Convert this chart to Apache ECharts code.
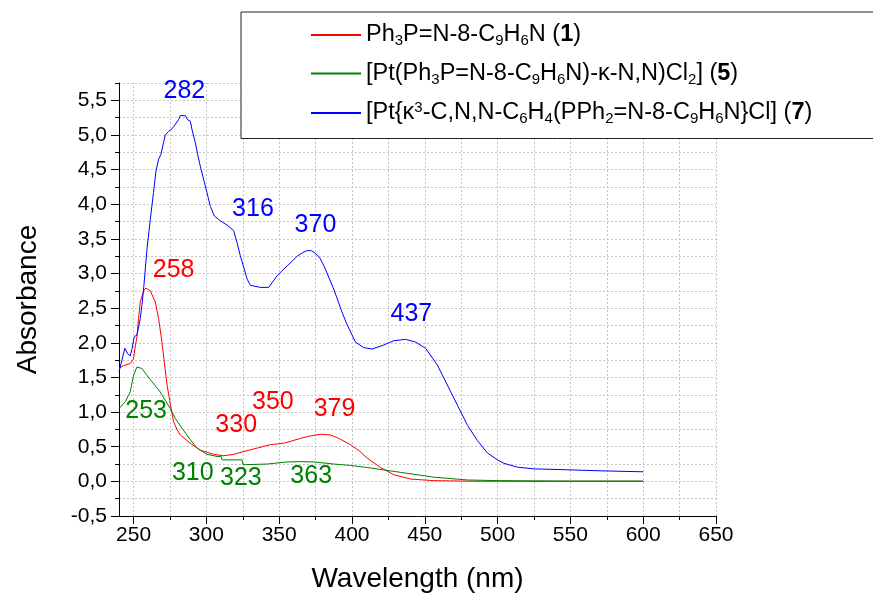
<!DOCTYPE html>
<html><head><meta charset="utf-8">
<script src="https://cdn.jsdelivr.net/npm/echarts@6/dist/echarts.min.js"></script>
<style>html,body{margin:0;padding:0;background:#fff}#c{width:873px;height:598px}</style>
</head><body><div id="c"></div>
<script>
// ---- data ----
const wl1 = [240,243,247.7,250,251.1,252.3,253.4,254.6,256.9,258.5,261.5,264.9,267.2,269.5,271.1,273,275.2,277.5,280,282.1,289,295.8,305,311.9,318.8,325.6,334.8,344,353.1,364.6,370,378.4,385,390,399,405,410.5,419.6,428.8,440.3,456.3,480,520,560,600];
const abs1 = [1.63,1.67,1.70,1.77,1.94,2.08,2.35,2.59,2.75,2.79,2.75,2.59,2.35,2.01,1.72,1.39,1.12,0.86,0.74,0.67,0.55,0.45,0.39,0.37,0.39,0.43,0.48,0.53,0.55,0.62,0.65,0.68,0.67,0.63,0.53,0.44,0.335,0.20,0.095,0.033,0.01,0.003,0.0,0.0,0.0];

const wl5 = [240,244.3,247.7,250,252.3,253.4,255.7,259.2,262.6,266.1,268.3,271.8,275.2,278.7,282.1,289,293.6,300.5,307.3,310.1,310.8,324.5,325.2,341.7,355.5,364.6,373.8,387.5,399,410.5,433.4,456.3,479.3,502,550,600];
const abs5 = [1.05,1.15,1.29,1.53,1.65,1.67,1.63,1.53,1.44,1.35,1.29,1.17,1.05,0.91,0.80,0.60,0.48,0.39,0.36,0.36,0.31,0.31,0.24,0.25,0.28,0.285,0.28,0.25,0.23,0.20,0.13,0.06,0.02,0.01,0.005,0.005];

const wl7 = [240,242,244,246,247.7,249,250.5,252.3,254.6,255.8,257,259.2,261.5,263.7,265.4,267.2,268.8,270.6,271.8,274,276.4,277.5,278.7,280.9,282.1,285.5,287.1,289,290.1,292.4,294,295.8,298.1,300.4,302.7,305.5,307.3,309.6,314.2,318.7,321,323.3,328,330.2,337.1,342.8,348.6,355.5,362.4,366,369,372,375,378,381,384,387,390,393,396.7,402.4,408.1,413.9,420.8,428.8,436.8,443.7,450.6,458.6,465.5,472.4,479.3,486.1,493,499.9,504.4,513.7,525,548,571,600];
const abs7 = [1.58,1.75,1.92,1.84,1.81,1.92,2.09,2.11,2.35,2.55,2.80,3.35,3.78,4.17,4.48,4.65,4.72,4.89,5.00,5.05,5.09,5.12,5.10,5.22,5.28,5.28,5.22,5.20,5.08,4.89,4.72,4.55,4.36,4.17,3.97,3.83,3.80,3.76,3.70,3.62,3.45,3.26,2.92,2.83,2.80,2.80,2.97,3.11,3.25,3.30,3.33,3.33,3.29,3.22,3.10,2.95,2.80,2.63,2.45,2.26,2.01,1.93,1.91,1.96,2.03,2.05,2.01,1.92,1.68,1.39,1.10,0.81,0.59,0.41,0.31,0.26,0.205,0.18,0.167,0.152,0.138];

// peak annotations (text, anchor wavelength, anchor absorbance)
const peakText1 = ['258','330','350','379'];
const peakX1 = [277.5,320.5,345.7,388.0];
const peakY1 = [3.05,0.81,1.14,1.05];
const peakText5 = ['253','310','323','363'];
const peakX5 = [258.6,290.7,323.7,372.0];
const peakY5 = [1.01,0.12,0.05,0.07];
const peakText7 = ['282','316','370','437'];
const peakX7 = [284.9,332.0,374.9,440.8];
const peakY7 = [5.63,3.93,3.70,2.41];

// axis ticks
const xMajor = [250,300,350,400,450,500,550,600,650];
const xMinor = [275,325,375,425,475,525,575,625];
const xGrid = [250,275,300,325,350,375,400,425,450,475,500,525,550,575,600,625,650];
const yMajor = [-0.5,0,0.5,1,1.5,2,2.5,3,3.5,4,4.5,5,5.5];

const names = ['Ph3P=N-8-C9H6N (1)','[Pt(Ph3P=N-8-C9H6N)-k-N,N)Cl2] (5)','[Pt{k3-C,N,N-C6H4(PPh2=N-8-C9H6N}Cl] (7)'];
const richNames = {
  [names[0]]: 'Ph{s|3}P=N-8-C{s|9}H{s|6}N ({b|1})',
  [names[1]]: '[Pt(Ph{s|3}P=N-8-C{s|9}H{s|6}N)-κ-N,N)Cl{s|2}] ({b|5})',
  [names[2]]: '[Pt{κ{p|3}-C,N,N-C{s|6}H{s|4}(PPh{s|2}=N-8-C{s|9}H{s|6}N}Cl] ({b|7})'
};

const FONT = '"Liberation Sans", Arial, sans-serif';
const zip = (a,b) => a.map((v,i)=>[v,b[i]]);
function peaks(t,x,y,color){
  return {
    symbol:'circle', symbolSize:1, itemStyle:{color:'rgba(0,0,0,0)'}, silent:true,
    label:{show:true, position:'inside', formatter:'{b}', color:color, fontSize:25, fontFamily:FONT},
    data: t.map((s,i)=>({name:s, coord:[x[i],y[i]]}))
  };
}
const chart = echarts.init(document.getElementById('c'), null, {renderer:'canvas'});
const axisLineStyle = {color:'#000', width:1};
chart.setOption({
  animation:false,
  backgroundColor:'#fff',
  grid:{left:119, right:157, top:83, bottom:80, containLabel:false},
  legend:{
    orient:'vertical', left:241, top:12,
    padding:[11,170,12,69], itemGap:13,
    backgroundColor:'#fff', borderColor:'#222', borderWidth:1,
    itemWidth:50, itemHeight:14,
    itemStyle:{opacity:0},
    data:names,
    formatter: n => richNames[n],
    textStyle:{fontSize:23.5, color:'#000', fontFamily:FONT,
      rich:{
        s:{fontSize:15, fontFamily:FONT, color:'#000', padding:[12,0,0,0]},
        p:{fontSize:15, fontFamily:FONT, color:'#000', padding:[0,0,11,0]},
        b:{fontSize:23.5, fontFamily:FONT, color:'#000', fontWeight:'bold'}
      }}
  },
  xAxis:[{
    type:'value', min:240, max:650,
    axisLine:{show:true, onZero:false, lineStyle:axisLineStyle},
    axisTick:{show:true, customValues:xMajor, length:8, lineStyle:axisLineStyle},
    axisLabel:{show:true, customValues:xMajor, fontSize:21, color:'#000', fontFamily:FONT, margin:9},
    splitLine:{show:false},
    name:'Wavelength (nm)', nameLocation:'middle', nameGap:49,
    nameTextStyle:{fontSize:28, color:'#000', fontFamily:FONT}
  },{
    type:'value', min:240, max:650, position:'bottom',
    axisLine:{show:false, onZero:false},
    axisTick:{show:true, customValues:xMinor, length:4, lineStyle:axisLineStyle},
    axisLabel:{show:false}, splitLine:{show:false}
  }],
  yAxis:[{
    type:'value', min:-0.5, max:5.75, interval:0.25,
    axisLine:{show:true, onZero:false, lineStyle:axisLineStyle},
    axisTick:{show:true, length:4, lineStyle:axisLineStyle},
    axisLabel:{show:false},
    splitLine:{show:true, lineStyle:{color:'#c4c4c4', width:1, type:[2,2]}}
  },{
    type:'value', min:-0.5, max:5.75, interval:0.25, position:'left',
    axisLine:{show:false, onZero:false},
    axisTick:{show:true, customValues:yMajor, length:8, lineStyle:axisLineStyle},
    axisLabel:{show:true, customValues:yMajor, fontSize:21, color:'#000', fontFamily:FONT, margin:12,
      formatter: v => v.toFixed(1).replace('.', ',')},
    splitLine:{show:false},
    name:'Absorbance', nameLocation:'middle', nameGap:77, nameRotate:90,
    nameTextStyle:{fontSize:28, color:'#000', fontFamily:FONT}
  }],
  series:[{
    name:names[0], type:'line', symbol:'none', showSymbol:false, color:'#ff0000',
    lineStyle:{width:1, color:'#ff0000'}, data:zip(wl1,abs1), z:3,
    markPoint:peaks(peakText1,peakX1,peakY1,'#ff0000'),
    markLine:{silent:true, symbol:['none','none'], z:1, label:{show:false},
      lineStyle:{color:'#c4c4c4', width:1, type:[2,2]},
      data: xGrid.map(v=>({xAxis:v}))}
  },{
    name:names[1], type:'line', symbol:'none', showSymbol:false, color:'#008000',
    lineStyle:{width:1, color:'#008000'}, data:zip(wl5,abs5), z:3,
    markPoint:peaks(peakText5,peakX5,peakY5,'#008000')
  },{
    name:names[2], type:'line', symbol:'none', showSymbol:false, color:'#0000ff',
    lineStyle:{width:1, color:'#0000ff'}, data:zip(wl7,abs7), z:3,
    markPoint:peaks(peakText7,peakX7,peakY7,'#0000ff')
  }]
});
</script></body></html>
